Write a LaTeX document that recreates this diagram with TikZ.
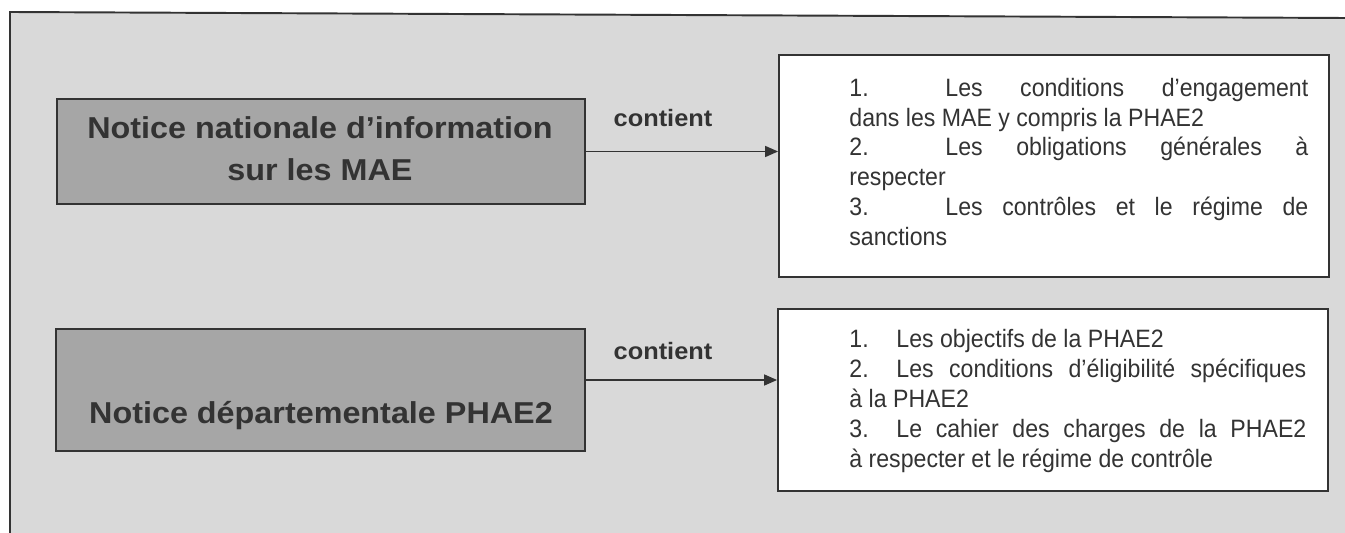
\documentclass[tikz,border=0pt]{standalone}
\usepackage{fontspec}
\setmainfont{Liberation Sans}
\newfontfamily\widefont[FakeStretch=1.07]{Liberation Sans}
\newfontfamily\narrowfont[FakeStretch=0.92]{Liberation Sans}
\usetikzlibrary{arrows.meta,positioning}
\definecolor{scangrey}{HTML}{D9D9D9}
\definecolor{boxgrey}{HTML}{A6A6A6}
\definecolor{inkgrey}{HTML}{333333}
% number, tab, then the rest of the line
\newcommand{\tabline}[3]{\makebox[#1][l]{#2}#3}
% same, but stretched to the full width (justified line)
\newcommand{\fullline}[4]{\makebox[#1][s]{\makebox[#2][l]{#3}#4}}

\begin{document}
\begin{tikzpicture}[x=0.02cm, y=-0.02cm,
    greybox/.style={draw=inkgrey, line width=1.1pt, fill=boxgrey, inner sep=0pt},
    listbox/.style={draw=inkgrey, line width=1.1pt, fill=white, inner sep=0pt},
    boxtitle/.style={text=inkgrey, align=center, font=\widefont\bfseries\fontsize{17.2}{24}\selectfont},
    linklabel/.style={text=inkgrey, anchor=base, font=\widefont\bfseries\fontsize{13.5}{15}\selectfont},
    listtext/.style={text=inkgrey, align=left, inner sep=0pt},
    containsarrow/.style={draw=inkgrey, line width=0.9pt, -{Triangle[length=0.26cm, width=0.22cm]}}]

    % page and scanned frame
    \useasboundingbox (0,0) rectangle (1345,533);
    \fill[white] (0,0) rectangle (1345,533);
    \fill[scangrey] (10,12) -- (1345,18) -- (1345,533) -- (10,533) -- cycle;
    \draw[inkgrey, line width=1.1pt] (10,533) -- (10,12) -- (1345,18);

    % national notice
    \node[greybox, minimum width=10.56cm, minimum height=2.1cm] (g1) at (321,151.5) {};
    \node[boxtitle] (g1text) at (320,149) {Notice nationale d’information\\ sur les MAE};
    \node[listbox, minimum width=11cm, minimum height=4.44cm] (w1) at (1054,166) {};
    \node[listtext, below right=0.48cm and 1.42cm of w1.north west, font=\narrowfont\fontsize{14.3}{16.9}\selectfont] (l1)
        {\fullline{9.18cm}{1.92cm}{1.}{Les conditions d’engagement}\\
         dans les MAE y compris la PHAE2\\
         \fullline{9.18cm}{1.92cm}{2.}{Les obligations générales à}\\
         respecter\\
         \fullline{9.18cm}{1.92cm}{3.}{Les contrôles et le régime de}\\
         sanctions};
    \draw[containsarrow] (g1.east) -- (g1.east -| w1.west);
    \node[linklabel] (c1) at (663,127) {contient};

    % departmental notice
    \node[greybox, minimum width=10.58cm, minimum height=2.44cm] (g2) at (320.5,390) {};
    \node[boxtitle, anchor=base] (g2text) at (321,423) {Notice départementale PHAE2};
    \node[listbox, minimum width=11cm, minimum height=3.64cm] (w2) at (1053,400) {};
    \node[listtext, below right=0.41cm and 1.44cm of w2.north west, font=\narrowfont\fontsize{14.3}{17.1}\selectfont] (l2)
        {\tabline{0.94cm}{1.}{Les objectifs de la PHAE2}\\
         \fullline{9.14cm}{0.94cm}{2.}{Les conditions d’éligibilité spécifiques}\\
         à la PHAE2\\
         \fullline{9.14cm}{0.94cm}{3.}{Le cahier des charges de la PHAE2}\\
         à respecter et le régime de contrôle};
    \coordinate (a2) at ([yshift=0.2cm]g2.east);
    \draw[containsarrow] (a2) -- (a2 -| w2.west);
    \node[linklabel] (c2) at (663,359) {contient};

\end{tikzpicture}
\end{document}
